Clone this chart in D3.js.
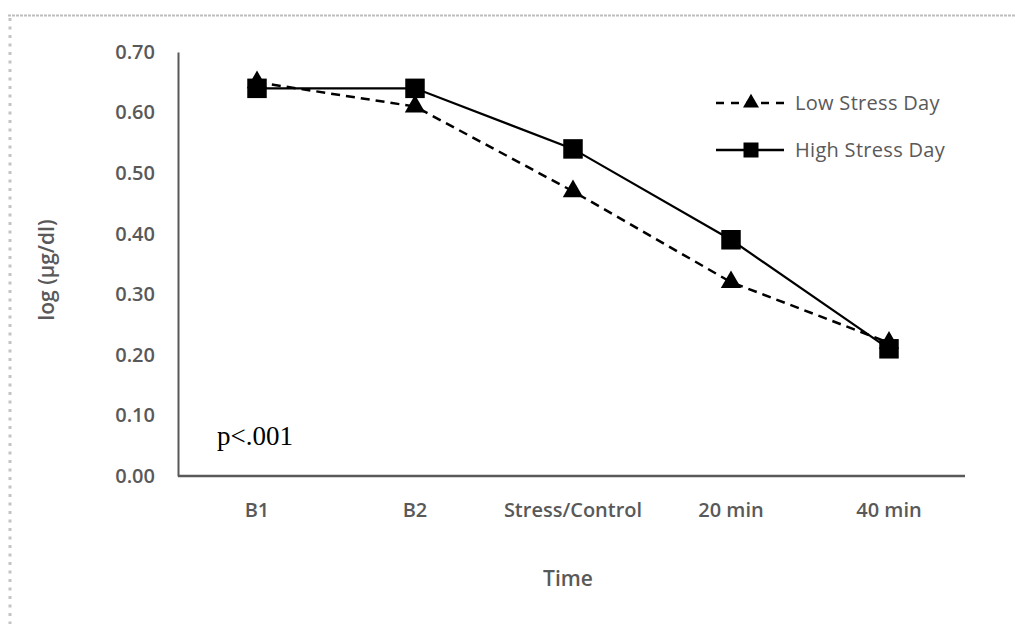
<!DOCTYPE html>
<html><head><meta charset="utf-8">
<script src="https://cdn.jsdelivr.net/npm/d3@7"></script>
<style>body{margin:0;background:#fff}svg{display:block}</style>
</head><body>
<script>
const categories = ["B1","B2","Stress/Control","20 min","40 min"];
const lowStress = [0.65,0.61,0.47,0.32,0.22];
const highStress = [0.64,0.64,0.54,0.39,0.21];
const yTicks = [0,0.1,0.2,0.3,0.4,0.5,0.6,0.7];
const seriesNames = ["Low Stress Day","High Stress Day"];

(function(){
const W=1015,H=624;
const svg=d3.select("body").append("svg").attr("width",W).attr("height",H);
svg.append("line").attr("x1",8).attr("x2",W).attr("y1",15.5).attr("y2",15.5)
  .attr("stroke","#bdbdbd").attr("stroke-width",2).attr("stroke-dasharray","3,1");
svg.append("line").attr("x1",10).attr("x2",10).attr("y1",18).attr("y2",H)
  .attr("stroke","#c4c4c4").attr("stroke-width",3).attr("stroke-dasharray","3,5.5");

const mL=178,mR=968,mT=52,mB=476;
const x=d3.scaleBand().domain(categories).range([mL,mR]);
const y=d3.scaleLinear().domain([0,0.7]).range([mB,mT]);
const gray="#595959";
const font="'Open Sans', sans-serif";

const ya=svg.append("g").attr("transform",`translate(${mL},0)`)
  .call(d3.axisLeft(y).tickValues(yTicks).tickFormat(d3.format(".2f")).tickSize(0).tickPadding(23));
ya.select(".domain").attr("stroke",gray).attr("stroke-width",2);
ya.selectAll("text").attr("fill",gray).style("font-family",font).style("font-size","20px").style("font-weight","600");
const xa=svg.append("g").attr("transform",`translate(0,${mB})`)
  .call(d3.axisBottom(x).tickSize(0).tickPadding(27));
xa.select(".domain").attr("stroke",gray).attr("stroke-width",2.5).attr("d",`M${mL},0H${mR-3}`);
xa.selectAll("text").attr("fill",gray).style("font-family",font).style("font-size","20px").style("font-weight","600");

svg.append("text").attr("x",568).attr("y",586).attr("text-anchor","middle").attr("fill",gray)
  .style("font-family",font).style("font-size","21px").style("font-weight","600").text("Time");
svg.append("text").attr("transform","translate(54,270) rotate(-90)").attr("text-anchor","middle").attr("fill",gray)
  .style("font-family",font).style("font-size","21px").style("font-weight","600").text("log (µg/dl)");

svg.append("text").attr("x",217).attr("y",445).attr("fill","#000")
  .style("font-family","'Liberation Serif', serif").style("font-size","27px").text("p<.001");

const cx=(c)=>x(c)+x.bandwidth()/2;
const line=d3.line().x((d,i)=>cx(categories[i])).y(d=>y(d));
const tri=d3.symbol().type(d3.symbolTriangle).size(180);
const sq=d3.symbol().type(d3.symbolSquare).size(380);

svg.append("path").datum(lowStress).attr("d",line).attr("fill","none").attr("stroke","#000")
  .attr("stroke-width",2.5).attr("stroke-dasharray","9,6");
svg.append("path").datum(highStress).attr("d",line).attr("fill","none").attr("stroke","#000").attr("stroke-width",2.2);
svg.selectAll(".tri").data(lowStress).join("path").attr("class","tri").attr("d",tri)
  .attr("transform",(d,i)=>`translate(${cx(categories[i])},${y(d)})`).attr("fill","#000");
svg.selectAll(".sq").data(highStress).join("path").attr("class","sq").attr("d",sq)
  .attr("transform",(d,i)=>`translate(${cx(categories[i])},${y(d)})`).attr("fill","#000");

const lg=[{y:103,dash:"8,7"},{y:150,dash:null}];
lg.forEach((l,i)=>{
  svg.append("line").attr("x1",716).attr("x2",784).attr("y1",l.y).attr("y2",l.y).attr("stroke","#000")
    .attr("stroke-width",2.5).attr("stroke-dasharray",l.dash);
  svg.append("path").attr("d",i===0?d3.symbol().type(d3.symbolTriangle).size(110)():d3.symbol().type(d3.symbolSquare).size(225)())
    .attr("transform",`translate(751,${l.y})`).attr("fill","#000");
  svg.append("text").attr("x",795).attr("y",l.y+7).attr("fill",gray)
    .style("font-family",font).style("font-size","20px").style("letter-spacing","0.3px").text(seriesNames[i]);
});
})();
</script>
</body></html>
